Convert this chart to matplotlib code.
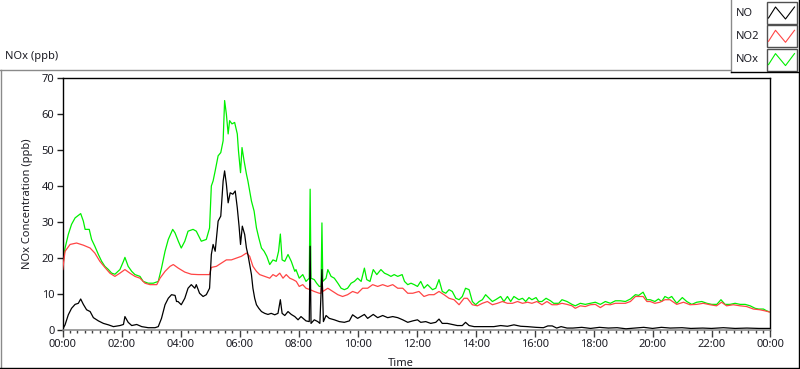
import matplotlib
matplotlib.use("Agg")
import matplotlib.pyplot as plt
import matplotlib.patches as mpatches
from matplotlib.lines import Line2D
from matplotlib.ticker import MultipleLocator, FuncFormatter

plt.rcParams["font.family"] = ["Noto Sans", "DejaVu Sans"]

# NOx (green) — time in hours, value in ppb
nox_t = [0.00, 0.08, 0.19, 0.30, 0.42, 0.61, 0.70, 0.76, 0.90, 0.98, 1.09, 1.21,
         1.32, 1.43, 1.55, 1.66, 1.77, 1.94, 2.06, 2.11, 2.22, 2.34, 2.45, 2.62,
         2.73, 2.90, 3.07, 3.24, 3.35, 3.47, 3.58, 3.73, 3.81, 3.92,
         4.02, 4.14, 4.25, 4.42, 4.53, 4.70, 4.87, 4.98, 5.04, 5.10, 5.17, 5.27,
         5.36, 5.44, 5.49, 5.55, 5.61, 5.66, 5.74, 5.83, 5.92, 5.96, 6.03, 6.08,
         6.15, 6.23, 6.28, 6.34, 6.40, 6.49, 6.57, 6.65, 6.74, 6.83, 6.92, 7.02,
         7.13, 7.24, 7.32, 7.38, 7.44, 7.53, 7.64, 7.75, 7.87,
         7.91, 8.02, 8.14, 8.25, 8.36, 8.39, 8.42, 8.53, 8.61, 8.70, 8.76, 8.79,
         8.82, 8.93, 8.99, 9.10, 9.21, 9.33, 9.44, 9.55, 9.66, 9.78, 9.89, 10.00,
         10.12, 10.23, 10.31, 10.42, 10.53, 10.65, 10.79, 10.91, 11.02, 11.13,
         11.24, 11.36, 11.51, 11.59, 11.70, 11.81, 11.92,
         12.03, 12.14, 12.25, 12.37, 12.54, 12.65, 12.76, 12.87, 12.99, 13.10,
         13.21, 13.33, 13.44, 13.55, 13.66, 13.78, 13.89, 14.00, 14.12, 14.23,
         14.34, 14.46, 14.57, 14.68, 14.85, 14.96, 15.08, 15.19, 15.30, 15.47,
         15.59, 15.70, 15.81,
         15.91, 16.05, 16.14, 16.25, 16.39, 16.54, 16.65, 16.82, 16.93, 17.10,
         17.27, 17.38, 17.55, 17.72, 17.89, 18.06, 18.23, 18.40, 18.57, 18.74,
         18.91, 19.08, 19.25, 19.42, 19.53, 19.68, 19.81,
         19.92, 20.08, 20.20, 20.31, 20.42, 20.54, 20.65, 20.82, 21.01, 21.16,
         21.33, 21.50, 21.67, 21.84, 22.01, 22.18, 22.32, 22.46, 22.63, 22.80,
         22.97, 23.14, 23.31, 23.48, 23.60, 23.76, 23.87, 24.00]
nox_v = [17.6, 22.7, 26.5, 29.3, 31.1, 32.3, 30.2, 27.9, 27.9, 25.1, 23.2, 20.9,
         19.0, 17.6, 16.7, 15.7, 15.4, 16.7, 19.0, 20.1, 17.6, 16.2, 15.3, 14.8,
         13.4, 12.9, 12.9, 13.4, 17.1, 21.8, 25.1, 27.9, 26.9, 24.6,
         22.7, 24.6, 27.4, 27.9, 27.4, 24.6, 25.1, 28.3, 40.0, 41.4, 44.2, 48.4,
         49.3, 52.6, 63.8, 60.0, 54.5, 58.2, 57.3, 57.7, 54.5, 49.8, 43.7, 50.7,
         47.0, 43.3, 41.4, 38.6, 35.8, 33.0, 28.3, 25.5, 22.7, 21.8, 20.4, 18.1,
         19.4, 19.0, 21.8, 26.6, 19.4, 19.0, 20.9, 19.0, 16.2,
         16.7, 14.3, 15.3, 13.4, 14.3, 39.1, 14.3, 13.9, 12.9, 12.0, 12.0, 29.7,
         13.4, 14.3, 16.7, 14.8, 14.3, 12.9, 11.5, 11.1, 11.5, 12.9, 13.4, 14.3,
         13.4, 17.1, 13.9, 13.4, 16.7, 15.3, 16.7, 15.7, 15.3, 14.8,
         15.3, 14.8, 15.3, 13.4, 12.5, 12.9, 12.5,
         12.0, 13.4, 11.5, 12.5, 11.1, 11.5, 13.9, 10.6, 10.1, 11.1,
         10.6, 8.7, 8.3, 9.2, 11.5, 11.1, 7.8, 6.9, 7.8, 8.3,
         9.7, 8.7, 7.8, 8.3, 9.2, 7.8, 9.2, 7.8, 9.2, 8.3,
         8.7, 7.8, 8.9,
         8.3, 8.9, 7.8, 7.8, 8.7, 8.0, 7.3, 7.3, 8.3, 7.8,
         7.0, 6.6, 7.3, 7.0, 7.3, 7.6, 7.0, 7.8, 7.3, 8.0,
         8.0, 7.8, 8.5, 9.7, 9.5, 10.4, 8.3,
         8.3, 7.8, 8.5, 7.8, 9.2, 8.7, 9.2, 7.3, 8.9, 7.8,
         7.0, 7.6, 7.8, 7.3, 7.0, 7.0, 8.3, 7.0, 7.0, 7.3,
         7.0, 7.0, 6.6, 5.9, 5.7, 5.7, 5.2, 4.8]

# NO2 (red)
no2_t = [0.00, 0.08, 0.25, 0.47, 0.70, 0.93, 1.09, 1.26, 1.43, 1.60, 1.77, 1.94,
         2.11, 2.28, 2.45, 2.62, 2.79, 2.96, 3.19, 3.30, 3.47, 3.64, 3.75, 3.92,
         4.14, 4.36, 4.59, 4.81, 4.98, 5.04, 5.21, 5.38, 5.55, 5.72, 5.89, 6.06,
         6.23, 6.34, 6.45, 6.57, 6.68, 6.85, 7.02, 7.13, 7.24, 7.36, 7.47, 7.58,
         7.70, 7.81, 7.92,
         8.02, 8.14, 8.25, 8.39, 8.53, 8.70, 8.76, 8.79, 8.82, 8.99, 9.16, 9.33,
         9.49, 9.66, 9.83, 10.00, 10.17, 10.34, 10.51, 10.68, 10.85, 11.02, 11.19,
         11.36, 11.53, 11.70, 11.87,
         12.08, 12.25, 12.42, 12.59, 12.76, 12.93, 13.10, 13.27, 13.44, 13.61,
         13.72, 13.89, 14.06, 14.23, 14.40, 14.57, 14.74, 14.91, 15.08, 15.25,
         15.42, 15.59, 15.76,
         15.91, 16.08, 16.25, 16.42, 16.59, 16.76, 16.93, 17.10, 17.27, 17.38,
         17.55, 17.72, 17.89, 18.06, 18.23, 18.40, 18.57, 18.74, 18.91, 19.08,
         19.25, 19.42, 19.53, 19.68, 19.81,
         19.92, 20.08, 20.25, 20.42, 20.59, 20.82, 21.05, 21.27, 21.50, 21.72,
         21.95, 22.17, 22.34, 22.51, 22.74, 22.97, 23.19, 23.42, 23.64, 23.81,
         24.00]
no2_v = [16.7, 21.8, 23.7, 24.1, 23.5, 22.7, 21.3, 19.0, 17.3, 15.7, 14.8, 15.7,
         16.7, 15.7, 14.8, 14.3, 12.9, 12.5, 12.5, 14.3, 16.2, 17.6, 18.1, 17.1,
         16.0, 15.4, 15.3, 15.3, 15.3, 17.3, 17.6, 18.5, 19.4, 19.4, 19.9, 20.4,
         21.3, 20.4, 17.6, 16.2, 15.3, 14.8, 14.3, 15.3, 14.8, 15.7, 14.3, 15.3,
         14.3, 13.9, 13.4,
         12.0, 12.5, 11.5, 11.1, 10.6, 10.1, 10.1, 14.3, 10.6, 11.5, 10.6, 9.7,
         9.2, 9.7, 10.6, 10.1, 11.5, 11.5, 12.5, 12.0, 12.5, 12.0, 12.5,
         11.5, 11.5, 10.1, 10.1,
         10.6, 9.2, 9.7, 9.7, 10.6, 9.7, 8.7, 8.3, 6.9, 8.7,
         8.7, 6.9, 6.6, 7.3, 7.8, 6.9, 7.3, 7.8, 7.3, 7.3,
         7.8, 7.3, 7.6,
         7.3, 7.8, 6.9, 7.8, 6.9, 6.9, 7.3, 7.0, 6.6, 5.9,
         6.6, 6.4, 6.9, 7.0, 6.1, 7.0, 6.9, 7.3, 7.3, 7.3,
         7.8, 9.2, 9.2, 9.2, 7.8,
         7.8, 7.3, 7.6, 8.3, 8.3, 7.0, 7.6, 6.9, 7.0, 7.3,
         6.9, 6.6, 7.6, 6.6, 6.9, 6.6, 6.4, 5.7, 5.5, 5.2,
         4.8]

# NO (black)
no_t = [0.00, 0.08, 0.19, 0.30, 0.42, 0.53, 0.61, 0.70, 0.81, 0.93, 1.04, 1.21,
        1.38, 1.55, 1.72, 1.94, 2.06, 2.11, 2.22, 2.34, 2.51, 2.68, 2.90, 3.13,
        3.24, 3.35, 3.47, 3.58, 3.69, 3.81, 3.86,
        3.91, 4.02, 4.14, 4.25, 4.36, 4.48, 4.53, 4.64, 4.76, 4.87, 4.98, 5.04,
        5.10, 5.17, 5.27, 5.36, 5.44, 5.49, 5.55, 5.61, 5.68, 5.77, 5.85, 5.92,
        5.98, 6.03, 6.09, 6.17, 6.23, 6.28, 6.34, 6.40, 6.45, 6.51, 6.57, 6.65,
        6.74, 6.85, 6.96, 7.07, 7.19, 7.30, 7.38, 7.44, 7.53, 7.64, 7.75, 7.87,
        7.98,
        8.08, 8.25, 8.36, 8.39, 8.42, 8.53, 8.65, 8.72, 8.79, 8.84, 8.93, 9.04,
        9.21, 9.38, 9.55, 9.72, 9.83, 10.00, 10.23, 10.34, 10.53, 10.68, 10.85,
        11.02, 11.19, 11.36, 11.53, 11.70, 11.87,
        12.03, 12.14, 12.31, 12.48, 12.65, 12.76, 12.87, 13.04, 13.21, 13.38,
        13.55, 13.66, 13.78, 13.95, 14.17, 14.40, 14.62, 14.85, 15.08, 15.30,
        15.53, 15.76, 16.05,
        16.30, 16.45, 16.60, 16.75, 16.90, 17.10, 17.30, 17.60, 17.90, 18.20,
        18.50, 18.80, 19.10, 19.40, 19.70, 20.00, 20.30, 20.60, 21.00, 21.30,
        21.70, 22.00, 22.40, 22.80, 23.20, 23.60, 24.00]
no_v = [0.1, 1.3, 4.1, 5.9, 7.0, 7.3, 8.5, 7.0, 5.5, 5.0, 3.3, 2.4,
        1.7, 1.3, 0.8, 1.1, 1.4, 3.6, 2.0, 1.1, 1.4, 0.8, 0.5, 0.5,
        0.8, 3.1, 6.9, 8.7, 9.7, 9.5, 7.8,
        7.8, 6.9, 8.7, 11.5, 12.5, 11.5, 12.5, 10.1, 9.2, 9.7, 11.5, 20.9,
        23.7, 21.8, 30.2, 31.6, 41.4, 44.2, 40.5, 35.3, 38.1, 37.7, 38.6, 33.9,
        28.8, 23.7, 28.8, 26.5, 22.7, 20.9, 18.1, 15.3, 11.5, 8.7, 6.9, 5.9,
        5.0, 4.5, 4.2, 4.5, 4.1, 4.5, 8.3, 4.5, 3.9, 5.0, 4.2, 3.6,
        2.7,
        3.6, 2.4, 2.2, 23.2, 1.7, 2.7, 2.2, 1.7, 16.7, 2.2, 3.9, 3.1,
        2.7, 2.2, 2.0, 2.4, 4.1, 3.1, 4.2, 3.1, 4.2, 3.3, 3.9,
        3.3, 3.6, 3.3, 2.7, 2.0, 2.4,
        2.7, 2.0, 2.2, 1.7, 2.0, 2.9, 1.7, 1.7, 1.4, 1.1,
        1.1, 2.0, 1.1, 0.8, 0.8, 0.8, 0.8, 1.1, 0.9, 1.3,
        0.9, 0.8, 0.6,
        0.5, 1.0, 1.0, 0.4, 0.8, 0.4, 0.4, 0.6, 0.3, 0.6,
        0.4, 0.5, 0.2, 0.4, 0.6, 0.3, 0.6, 0.4, 0.5, 0.3,
        0.4, 0.3, 0.5, 0.3, 0.4, 0.3, 0.3]

series_names = ["NO", "NO2", "NOx"]
series_colors = ["#000000", "#FF4545", "#00F000"]
TXT = "#1c1c24"
W, H = 800, 369


def fx(x):
    return x / W


def fy(y):
    return 1 - y / H


fig = plt.figure(figsize=(8, 3.69), dpi=100)
ax = fig.add_axes([fx(62.7), fy(329.5), fx(770.5 - 62.7), (329.5 - 78.3) / H])

ax.plot(nox_t, nox_v, color=series_colors[2], lw=0.9, zorder=2)
ax.plot(no2_t, no2_v, color=series_colors[1], lw=0.9, zorder=3)
ax.plot(no_t, no_v, color=series_colors[0], lw=0.9, zorder=4)

ax.set_xlim(0, 24)
ax.set_ylim(0, 70)
ax.xaxis.set_major_locator(MultipleLocator(2))
ax.xaxis.set_minor_locator(MultipleLocator(0.25))
ax.xaxis.set_major_formatter(FuncFormatter(lambda v, p: f"{int(round(v)) % 24:02d}:00"))
ax.yaxis.set_major_locator(MultipleLocator(10))
ax.tick_params(axis="x", which="major", length=5, width=1, color="#404040",
               labelsize=8, labelcolor=TXT, pad=2)
ax.tick_params(axis="x", which="minor", length=2.5, width=1, color="#404040")
ax.tick_params(axis="y", length=4, width=1, color="#202020",
               labelsize=8, labelcolor=TXT, pad=2)
for s in ["left", "top", "right"]:
    ax.spines[s].set_color("black")
    ax.spines[s].set_linewidth(1.0)
ax.spines["bottom"].set_color("#909090")
ax.spines["bottom"].set_linewidth(1.2)

ax.set_xlabel("Time", fontsize=8, color=TXT)
ax.set_ylabel("NOx Concentration (ppb)", fontsize=8, color=TXT)
ax.xaxis.set_label_coords(0.478, -0.115)
ax.yaxis.set_label_coords(-0.042, 0.5)

# outer frame
def fline(x0, y0, x1, y1, color, lw=1.0):
    fig.add_artist(Line2D([fx(x0), fx(x1)], [fy(y0), fy(y1)], color=color, lw=lw))

fline(0, 69.5, 730, 69.5, "#8a8a8a")
fline(0.5, 69.5, 0.5, 369, "#8a8a8a")
fline(0, 368, 800, 368, "black")
fline(798.5, 0, 798.5, 369, "black")
fline(730.5, 0, 730.5, 72, "#8a8a8a")
fline(730.5, 72, 800, 72, "black")

fig.text(fx(5), fy(57), "NOx (ppb)", fontsize=8, color=TXT, ha="left", va="center")

# legend
for i, (name, col) in enumerate(zip(series_names, series_colors)):
    yc = 13 + i * 23.3
    fig.text(fx(736), fy(yc), name, fontsize=8, color=TXT, ha="left", va="center")
    bx0, bx1, by0, by1 = 766.5, 796.5, yc - 11, yc + 11
    fig.add_artist(mpatches.Rectangle((fx(bx0), fy(by1)), fx(bx1 - bx0), (by1 - by0) / H,
                                      transform=fig.transFigure, facecolor="white",
                                      edgecolor="#505050", lw=1.0))
    gx = [bx0 + 2, bx0 + 9, bx0 + 19, bx1 - 2]
    gy = [yc + 5, yc - 6, yc + 6, yc - 6]
    fig.add_artist(Line2D([fx(v) for v in gx], [fy(v) for v in gy], color=col, lw=0.8))

fig.savefig("out.png", dpi=100)
